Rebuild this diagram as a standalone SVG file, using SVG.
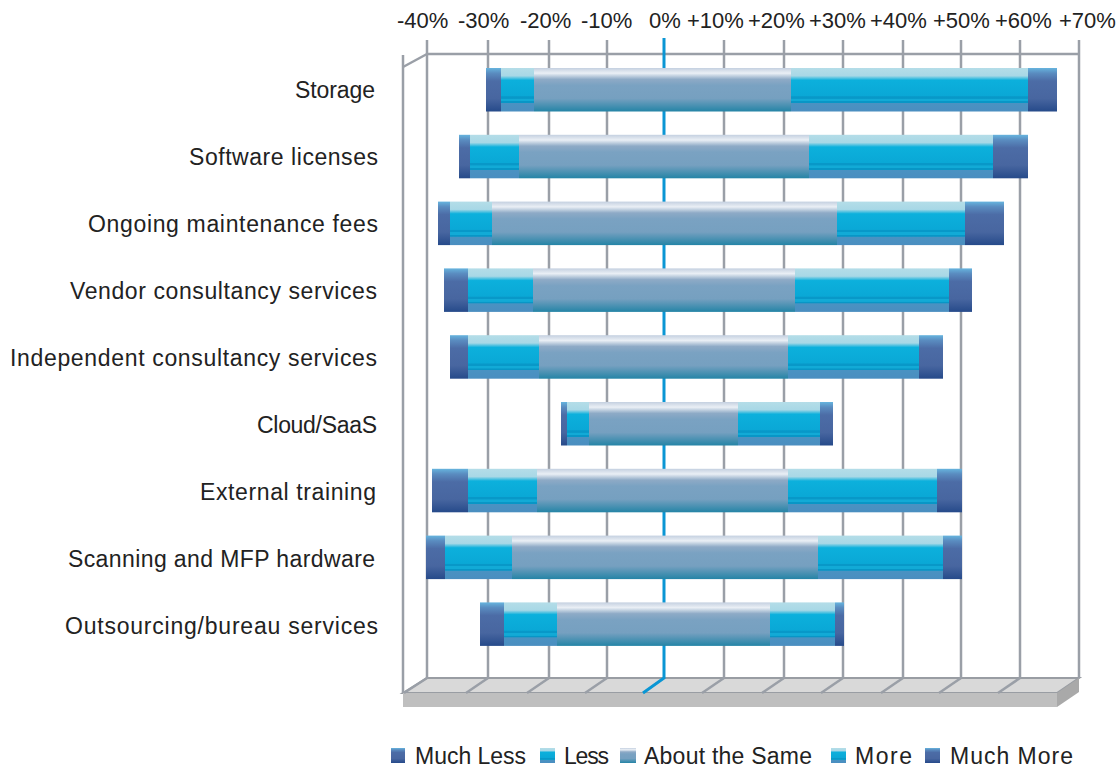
<svg xmlns="http://www.w3.org/2000/svg" width="1117" height="767" viewBox="0 0 1117 767">
<defs>
<linearGradient id="gDark" x1="0" y1="0" x2="0" y2="1">
<stop offset="0" stop-color="#66b4de"/>
<stop offset="0.12" stop-color="#5a8cc0"/>
<stop offset="0.3" stop-color="#4c6ca6"/>
<stop offset="0.7" stop-color="#4866a0"/>
<stop offset="1" stop-color="#264a8a"/>
</linearGradient>
<linearGradient id="gCyan" x1="0" y1="0" x2="0" y2="1">
<stop offset="0" stop-color="#b4dde8"/>
<stop offset="0.18" stop-color="#a8d8e6"/>
<stop offset="0.28" stop-color="#0cb0dc"/>
<stop offset="0.64" stop-color="#0aa8d6"/>
<stop offset="0.66" stop-color="#0898c8"/>
<stop offset="0.7" stop-color="#0898c8"/>
<stop offset="0.71" stop-color="#12aad6"/>
<stop offset="0.76" stop-color="#12aad6"/>
<stop offset="0.77" stop-color="#0896c6"/>
<stop offset="0.8" stop-color="#0896c6"/>
<stop offset="0.81" stop-color="#4a92c2"/>
<stop offset="1" stop-color="#4a8ec0"/>
</linearGradient>
<linearGradient id="gGray" x1="0" y1="0" x2="0" y2="1">
<stop offset="0" stop-color="#c4d0e0"/>
<stop offset="0.12" stop-color="#eaeff5"/>
<stop offset="0.26" stop-color="#8eaac6"/>
<stop offset="0.4" stop-color="#7aa2c2"/>
<stop offset="0.7" stop-color="#76a0c0"/>
<stop offset="1" stop-color="#2484a6"/>
</linearGradient>
<style>
.grid{stroke:#9a9fa7;stroke-width:2.5;fill:none}
.zero{stroke:#0a96d4;stroke-width:3;fill:none}
.ax{font-family:"Liberation Sans",Arial,sans-serif;font-size:22px;fill:#222}
.cat{font-family:"Liberation Sans",Arial,sans-serif;font-size:23px;fill:#222}
.leg{font-family:"Liberation Sans",Arial,sans-serif;font-size:23px;fill:#222}
.dk{fill:url(#gDark)}
.cy{fill:url(#gCyan)}
.gr{fill:url(#gGray)}
</style>
</defs>
<rect width="1117" height="767" fill="#ffffff"/>

<g id="chart-frame">
<polygon points="427,678 1079,678 1057,693 403,693" fill="#d9d9d9" stroke="#999da3" stroke-width="2"/>
<rect x="403" y="693" width="654" height="14" fill="#bfbfbf"/>
<polygon points="1057,693 1079,678 1079,692 1057,707" fill="#a9a9a9"/>
<g class="grid">
<line x1="427" y1="54" x2="1079" y2="54"/>
<line x1="403" y1="67" x2="427" y2="54"/>
<line x1="403" y1="55" x2="403" y2="693"/>
<line x1="427" y1="40" x2="427" y2="678"/><line x1="427" y1="678" x2="404" y2="693"/>
<line x1="488" y1="40" x2="488" y2="678"/><line x1="488" y1="678" x2="466" y2="693"/>
<line x1="549" y1="40" x2="549" y2="678"/><line x1="549" y1="678" x2="527" y2="693"/>
<line x1="607" y1="40" x2="607" y2="678"/><line x1="607" y1="678" x2="585" y2="693"/>
<line x1="724" y1="40" x2="724" y2="678"/><line x1="724" y1="678" x2="702" y2="693"/>
<line x1="784" y1="40" x2="784" y2="678"/><line x1="784" y1="678" x2="762" y2="693"/>
<line x1="843" y1="40" x2="843" y2="678"/><line x1="843" y1="678" x2="821" y2="693"/>
<line x1="903" y1="40" x2="903" y2="678"/><line x1="903" y1="678" x2="881" y2="693"/>
<line x1="961" y1="40" x2="961" y2="678"/><line x1="961" y1="678" x2="939" y2="693"/>
<line x1="1020" y1="40" x2="1020" y2="678"/><line x1="1020" y1="678" x2="998" y2="693"/>
<line x1="1079" y1="40" x2="1079" y2="678"/>
</g>
<polyline class="zero" points="664,38 664,678 643,693"/>
</g>

<g id="axis-labels" class="ax">
<text x="397" y="28">-40%</text>
<text x="458" y="28">-30%</text>
<text x="520" y="28">-20%</text>
<text x="581" y="28">-10%</text>
<text x="649" y="28">0%</text>
<text x="687" y="28">+10%</text>
<text x="748" y="28">+20%</text>
<text x="809" y="28">+30%</text>
<text x="870" y="28">+40%</text>
<text x="933" y="28">+50%</text>
<text x="995" y="28">+60%</text>
<text x="1059" y="28">+70%</text>
</g>

<g id="row-storage">
<text class="cat" x="375" y="98" text-anchor="end" textLength="80">Storage</text>
<rect class="dk" x="486" y="68" width="15" height="43.5"/>
<rect class="cy" x="501" y="68" width="33" height="43.5"/>
<rect class="gr" x="534" y="68" width="257" height="43.5"/>
<rect class="cy" x="791" y="68" width="237" height="43.5"/>
<rect class="dk" x="1028" y="68" width="29" height="43.5"/>
</g>
<g id="row-software">
<text class="cat" x="378" y="165" text-anchor="end" textLength="189">Software licenses</text>
<rect class="dk" x="459" y="134.8" width="11" height="43.5"/>
<rect class="cy" x="470" y="134.8" width="49" height="43.5"/>
<rect class="gr" x="519" y="134.8" width="290" height="43.5"/>
<rect class="cy" x="809" y="134.8" width="184" height="43.5"/>
<rect class="dk" x="993" y="134.8" width="35" height="43.5"/>
</g>
<g id="row-maintenance">
<text class="cat" x="378" y="232" text-anchor="end" textLength="290">Ongoing maintenance  fees</text>
<rect class="dk" x="438" y="201.6" width="12" height="43.5"/>
<rect class="cy" x="450" y="201.6" width="42" height="43.5"/>
<rect class="gr" x="492" y="201.6" width="345" height="43.5"/>
<rect class="cy" x="837" y="201.6" width="128" height="43.5"/>
<rect class="dk" x="965" y="201.6" width="39" height="43.5"/>
</g>
<g id="row-vendor">
<text class="cat" x="377" y="299" text-anchor="end" textLength="307">Vendor consultancy services</text>
<rect class="dk" x="444" y="268.4" width="24" height="43.5"/>
<rect class="cy" x="468" y="268.4" width="65" height="43.5"/>
<rect class="gr" x="533" y="268.4" width="262" height="43.5"/>
<rect class="cy" x="795" y="268.4" width="154" height="43.5"/>
<rect class="dk" x="949" y="268.4" width="23" height="43.5"/>
</g>
<g id="row-independent">
<text class="cat" x="377" y="366" text-anchor="end" textLength="367">Independent consultancy services</text>
<rect class="dk" x="450" y="335.2" width="18" height="43.5"/>
<rect class="cy" x="468" y="335.2" width="71" height="43.5"/>
<rect class="gr" x="539" y="335.2" width="249" height="43.5"/>
<rect class="cy" x="788" y="335.2" width="131" height="43.5"/>
<rect class="dk" x="919" y="335.2" width="24" height="43.5"/>
</g>
<g id="row-cloud">
<text class="cat" x="377" y="433" text-anchor="end" textLength="120">Cloud/SaaS</text>
<rect class="dk" x="561" y="402" width="6" height="43.5"/>
<rect class="cy" x="567" y="402" width="22" height="43.5"/>
<rect class="gr" x="589" y="402" width="149" height="43.5"/>
<rect class="cy" x="738" y="402" width="82" height="43.5"/>
<rect class="dk" x="820" y="402" width="13" height="43.5"/>
</g>
<g id="row-training">
<text class="cat" x="376" y="500" text-anchor="end" textLength="176">External training</text>
<rect class="dk" x="432" y="468.8" width="36" height="43.5"/>
<rect class="cy" x="468" y="468.8" width="69" height="43.5"/>
<rect class="gr" x="537" y="468.8" width="251" height="43.5"/>
<rect class="cy" x="788" y="468.8" width="149" height="43.5"/>
<rect class="dk" x="937" y="468.8" width="25" height="43.5"/>
</g>
<g id="row-scanning">
<text class="cat" x="375" y="567" text-anchor="end" textLength="307">Scanning and MFP hardware</text>
<rect class="dk" x="426" y="535.6" width="19" height="43.5"/>
<rect class="cy" x="445" y="535.6" width="67" height="43.5"/>
<rect class="gr" x="512" y="535.6" width="306" height="43.5"/>
<rect class="cy" x="818" y="535.6" width="125" height="43.5"/>
<rect class="dk" x="943" y="535.6" width="19" height="43.5"/>
</g>
<g id="row-outsourcing">
<text class="cat" x="378" y="634" text-anchor="end" textLength="313">Outsourcing/bureau services</text>
<rect class="dk" x="480" y="602.4" width="24" height="43.5"/>
<rect class="cy" x="504" y="602.4" width="53" height="43.5"/>
<rect class="gr" x="557" y="602.4" width="213" height="43.5"/>
<rect class="cy" x="770" y="602.4" width="65" height="43.5"/>
<rect class="dk" x="835" y="602.4" width="9" height="43.5"/>
</g>

<g id="legend" class="leg">
<rect class="dk" x="391" y="748" width="14" height="15"/>
<text x="415" y="764" textLength="111">Much Less</text>
<rect class="cy" x="540" y="748" width="15" height="15"/>
<text x="564" y="764" textLength="45">Less</text>
<rect class="gr" x="620" y="748" width="16" height="15"/>
<text x="644" y="764" textLength="168">About the Same</text>
<rect class="cy" x="831" y="748" width="15" height="15"/>
<text x="855" y="764" textLength="57">More</text>
<rect class="dk" x="925" y="748" width="15" height="15"/>
<text x="950" y="764" textLength="123">Much More</text>
</g>
</svg>
